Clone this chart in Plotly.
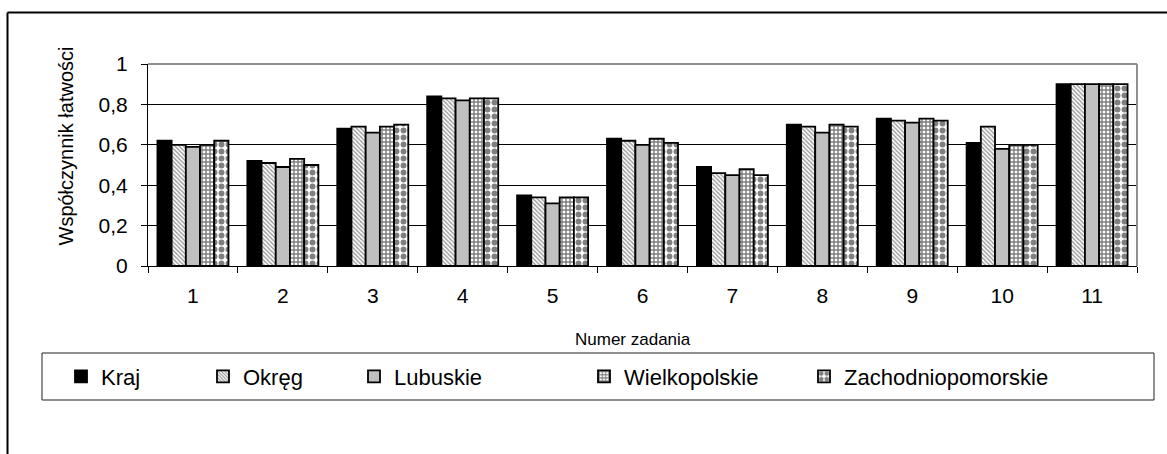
import plotly.graph_objects as go

categories = ["1", "2", "3", "4", "5", "6", "7", "8", "9", "10", "11"]
kraj = [0.62, 0.52, 0.68, 0.84, 0.35, 0.63, 0.49, 0.70, 0.73, 0.61, 0.90]
okreg = [0.60, 0.51, 0.69, 0.83, 0.34, 0.62, 0.46, 0.69, 0.72, 0.69, 0.90]
lubuskie = [0.59, 0.49, 0.66, 0.82, 0.31, 0.60, 0.45, 0.66, 0.71, 0.58, 0.90]
wielkopolskie = [0.60, 0.53, 0.69, 0.83, 0.34, 0.63, 0.48, 0.70, 0.73, 0.60, 0.90]
zachodniopomorskie = [0.62, 0.50, 0.70, 0.83, 0.34, 0.61, 0.45, 0.69, 0.72, 0.60, 0.90]
series_names = ["Kraj", "Okręg", "Lubuskie", "Wielkopolskie", "Zachodniopomorskie"]
y_ticks = [0, 0.2, 0.4, 0.6, 0.8, 1]
x_title = "Numer zadania"
y_title = "Współczynnik łatwości"

W, H = 1167, 454
L, R, T, B = 148, 30, 64, 188
pw = W - L - R
ph = H - T - B

def px_x(p):
    return (p - L) / pw

def px_y(p):
    return (H - B - p) / ph

FONT = "Liberation Sans, Arial, sans-serif"
line = dict(color="black", width=1.8)
markers = [
    dict(color="black", line=line),
    dict(color="white", line=line,
         pattern=dict(shape="\\", fgcolor="#303030", bgcolor="white", size=3, solidity=0.45)),
    dict(color="#c0c0c0", line=line),
    dict(color="white", line=line,
         pattern=dict(shape="+", fgcolor="black", bgcolor="white", size=4, solidity=0.6)),
    dict(color="white", line=line,
         pattern=dict(shape=".", fgcolor="black", bgcolor="white", size=7, solidity=0.55)),
]
values = [kraj, okreg, lubuskie, wielkopolskie, zachodniopomorskie]
legend_ids = ["legend", "legend2", "legend3", "legend4", "legend5"]
legend_px = [80, 222, 373, 603, 823]

fig = go.Figure()
for name, vals, mk, lid in zip(series_names, values, markers, legend_ids):
    fig.add_trace(go.Bar(x=categories, y=vals, name=name, marker=mk, legend=lid))

legend_layout = {}
for lid, xp in zip(legend_ids, legend_px):
    legend_layout[lid] = dict(
        x=px_x(xp - 19), y=px_y(376.5), xanchor="left", yanchor="middle",
        orientation="h", bgcolor="rgba(0,0,0,0)", borderwidth=0,
        font=dict(family=FONT, size=22, color="black"),
    )

fig.update_layout(
    width=W, height=H,
    margin=dict(l=L, r=R, t=T, b=B, autoexpand=False),
    paper_bgcolor="white", plot_bgcolor="white",
    separators=", ",
    barmode="group", bargap=0.21, bargroupgap=0,
    showlegend=True,
    font=dict(family=FONT, color="black"),
    xaxis=dict(
        type="category", tickson="boundaries", ticks="outside", ticklen=6,
        tickcolor="black", showline=True, linecolor="black", linewidth=1,
        showgrid=False, tickfont=dict(size=21, family=FONT, color="black"),
        ticklabelstandoff=11,
    ),
    yaxis=dict(
        range=[0, 1], tickvals=y_ticks, ticks="outside", ticklen=6,
        tickcolor="black", showline=True, linecolor="black", linewidth=1,
        showgrid=True, gridcolor="black", gridwidth=1, zeroline=False,
        tickfont=dict(size=21, family=FONT, color="black"), ticklabelstandoff=9,
    ),
    annotations=[
        dict(text=x_title, xref="paper", yref="paper", x=px_x(633), y=px_y(339),
             xanchor="center", yanchor="middle", showarrow=False,
             font=dict(size=17, family=FONT, color="black")),
        dict(text=y_title, xref="paper", yref="paper", x=px_x(65), y=px_y(146.5),
             xanchor="center", yanchor="middle", showarrow=False, textangle=-90,
             font=dict(size=20, family=FONT, color="black")),
    ],
    shapes=[
        dict(type="line", xref="paper", yref="paper", x0=0, x1=1, y0=1, y1=1,
             line=dict(color="#909090", width=2), layer="above"),
        dict(type="line", xref="paper", yref="paper", x0=1, x1=1, y0=0, y1=1,
             line=dict(color="#909090", width=2), layer="above"),
        dict(type="rect", xref="paper", yref="paper",
             x0=px_x(42), x1=px_x(1154), y0=px_y(400), y1=px_y(353),
             line=dict(color="#202020", width=1), fillcolor="rgba(0,0,0,0)"),
        dict(type="line", xref="paper", yref="paper",
             x0=px_x(7.5), x1=px_x(7.5), y0=px_y(12.5), y1=px_y(470),
             line=dict(color="black", width=2)),
        dict(type="line", xref="paper", yref="paper",
             x0=px_x(7.5), x1=px_x(1180), y0=px_y(12.5), y1=px_y(12.5),
             line=dict(color="black", width=2)),
    ],
    **legend_layout,
)

fig.write_html("out.html", config={"displayModeBar": False},
               post_script="document.body.style.margin='0';")
